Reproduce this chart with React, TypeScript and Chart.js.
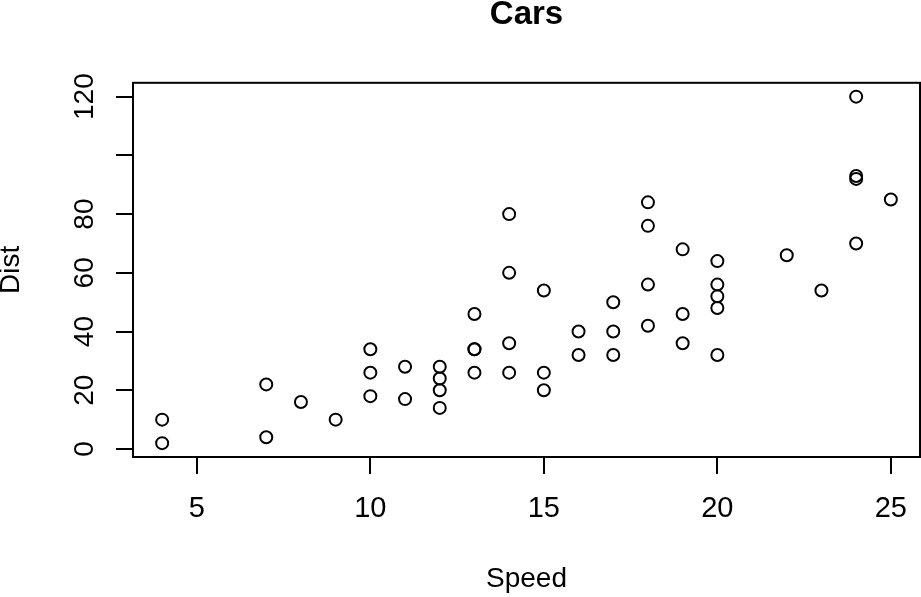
import React, { useEffect, useRef } from 'react';
import { Chart, registerables } from 'chart.js';

Chart.register(...registerables);

const speed = [4, 4, 7, 7, 8, 9, 10, 10, 10, 11, 11, 12, 12, 12, 12, 13, 13, 13, 13, 14, 14, 14, 14, 15, 15, 15, 16, 16, 17, 17, 17, 18, 18, 18, 18, 19, 19, 19, 20, 20, 20, 20, 20, 22, 23, 24, 24, 24, 24, 25];
const dist = [2, 10, 4, 22, 16, 10, 18, 26, 34, 17, 28, 14, 20, 24, 28, 26, 34, 34, 46, 26, 36, 60, 80, 20, 26, 54, 32, 40, 32, 40, 50, 42, 56, 76, 84, 36, 46, 68, 32, 48, 52, 56, 64, 66, 54, 70, 92, 93, 120, 85];
const xTicks = [5, 10, 15, 20, 25];
const yTicks = [0, 20, 40, 60, 80, 100, 120];
const yTickLabels = ['0', '20', '40', '60', '80', '', '120'];
const chartTitle = 'Cars';
const xTitle = 'Speed';
const yTitle = 'Dist';

const FONT = "'Liberation Sans', Arial, sans-serif";

function extend(vals: number[]) {
  const lo = Math.min(...vals);
  const hi = Math.max(...vals);
  const pad = (hi - lo) * 0.04;
  return { min: lo - pad, max: hi + pad };
}

const boxAndYLabels = {
  id: 'boxAndYLabels',
  afterDraw(chart: any) {
    const { ctx, chartArea } = chart;
    const y = chart.scales.y;
    ctx.save();
    ctx.strokeStyle = '#000';
    ctx.lineWidth = 2;
    ctx.strokeRect(chartArea.left, chartArea.top, chartArea.right - chartArea.left, chartArea.bottom - chartArea.top);
    ctx.fillStyle = '#000';
    ctx.font = `28px ${FONT}`;
    ctx.textAlign = 'center';
    ctx.textBaseline = 'alphabetic';
    yTicks.forEach((v, i) => {
      const label = yTickLabels[i];
      if (!label) return;
      const py = y.getPixelForValue(v);
      ctx.save();
      ctx.translate(chartArea.left - 40, py);
      ctx.rotate(-Math.PI / 2);
      ctx.fillText(label, 0, 0);
      ctx.restore();
    });
    ctx.restore();
  },
};

export default function App() {
  const ref = useRef<HTMLCanvasElement>(null);

  useEffect(() => {
    document.body.style.margin = '0';
    const xr = extend(speed);
    const yr = extend(dist);
    const chart = new Chart(ref.current as HTMLCanvasElement, {
      type: 'scatter',
      data: {
        datasets: [
          {
            data: speed.map((s, i) => ({ x: s, y: dist[i] })),
            pointStyle: 'circle',
            pointRadius: 6,
            pointBorderWidth: 2,
            borderColor: '#000',
            backgroundColor: 'rgba(0,0,0,0)',
            pointHoverRadius: 6,
          },
        ],
      },
      options: {
        animation: false,
        responsive: false,
        devicePixelRatio: 1,
        events: [],
        layout: { autoPadding: false, padding: { left: 0, right: 1, top: 0, bottom: 0 } },
        plugins: {
          legend: { display: false },
          tooltip: { enabled: false },
          title: {
            display: true,
            fullSize: false,
            text: chartTitle,
            color: '#000',
            font: { family: FONT, size: 33, weight: 'bold', lineHeight: 0.8 },
            padding: { top: 1.5, bottom: 54.9 },
          },
        },
        scales: {
          x: {
            type: 'linear',
            min: xr.min,
            max: xr.max,
            afterBuildTicks: (s: any) => {
              s.ticks = xTicks.map((v) => ({ value: v }));
            },
            afterFit: (s: any) => {
              s.height = 140;
              s.paddingLeft = 0;
              s.paddingRight = 0;
            },
            grid: { drawOnChartArea: false, drawTicks: true, tickLength: 17, color: '#000', lineWidth: 2 },
            border: { display: false },
            ticks: {
              color: '#000',
              font: { family: FONT, size: 29, lineHeight: 2.386 },
              padding: 0,
              maxRotation: 0,
              autoSkip: false,
              callback: (v: any) => String(v),
            },
            title: {
              display: true,
              text: xTitle,
              color: '#000',
              font: { family: FONT, size: 28, lineHeight: 1.286 },
              padding: 0,
            },
          },
          y: {
            type: 'linear',
            min: yr.min,
            max: yr.max,
            afterBuildTicks: (s: any) => {
              s.ticks = yTicks.map((v) => ({ value: v }));
            },
            afterFit: (s: any) => {
              s.width = 133;
              s.paddingTop = 0;
              s.paddingBottom = 0;
            },
            grid: { drawOnChartArea: false, drawTicks: true, tickLength: 17, color: '#000', lineWidth: 2 },
            border: { display: false },
            ticks: { display: false },
            title: {
              display: true,
              text: yTitle,
              color: '#000',
              font: { family: FONT, size: 28, lineHeight: 0.82 },
              padding: 0,
            },
          },
        },
      },
      plugins: [boxAndYLabels],
    });
    return () => chart.destroy();
  }, []);

  return (
    <div style={{ position: 'fixed', left: 0, top: 0, width: 921, height: 597, background: '#fff' }}>
      <canvas ref={ref} width={921} height={597} />
    </div>
  );
}
